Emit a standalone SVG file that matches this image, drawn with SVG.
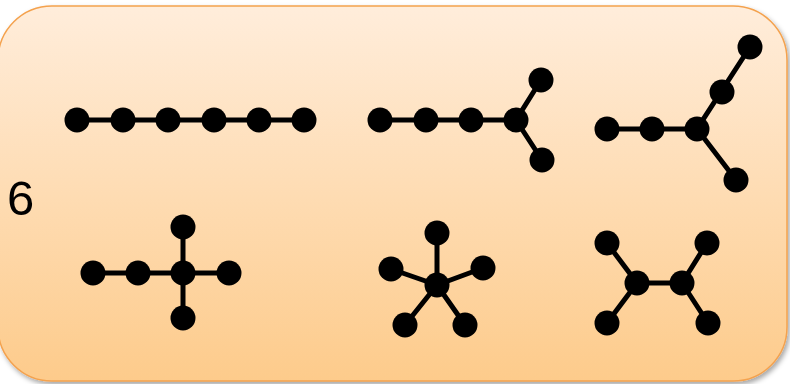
<svg xmlns="http://www.w3.org/2000/svg" width="790" height="384" viewBox="0 0 790 384">
  <defs>
    <linearGradient id="bg" x1="0" y1="0" x2="0" y2="1">
      <stop offset="0" stop-color="#FFEDDB"/>
      <stop offset="1" stop-color="#FDCB8B"/>
    </linearGradient>
    <filter id="shadow" x="-5%" y="-5%" width="110%" height="115%">
      <feDropShadow dx="2" dy="3" stdDeviation="2.5" flood-color="#000" flood-opacity="0.35"/>
    </filter>
  </defs>
  <style>
    .edge { stroke: #000; stroke-width: 5; stroke-linecap: round; fill: none; }
    .v { fill: #000; }
    .lbl { font-family: "Liberation Sans", Arial, sans-serif; font-size: 49px; fill: #000; }
  </style>

  <rect x="-2" y="6" width="789" height="375" rx="54" ry="54" fill="url(#bg)" stroke="#F4A24E" stroke-width="1.5" filter="url(#shadow)"/>

  <text class="lbl" x="7" y="215">6</text>

  <g id="connectors">
    <!-- path P6 -->
    <polyline class="edge" points="77,120 304,120"/>
    <!-- path with fork at the end -->
    <polyline class="edge" points="380,120 516,120"/>
    <polyline class="edge" points="541,80 516,120 542,160"/>
    <!-- long-arm fork -->
    <polyline class="edge" points="607,129 697,129"/>
    <polyline class="edge" points="750,47 697,129 736,180"/>
    <!-- cross -->
    <polyline class="edge" points="93,273 229,273"/>
    <polyline class="edge" points="183,227 183,318"/>
    <!-- star -->
    <path class="edge" d="M437,285 L437,233 M437,285 L391,269 M437,285 L483,268 M437,285 L405,325 M437,285 L465,325"/>
    <!-- double fork -->
    <path class="edge" d="M637,283 L682,283 M637,283 L607,243 M637,283 L607,323 M682,283 L707,243 M682,283 L708,323"/>
  </g>

  <g id="tree-path">
    <circle class="v" cx="77" cy="120" r="12.5"/>
    <circle class="v" cx="123" cy="120" r="12.5"/>
    <circle class="v" cx="168" cy="120" r="12.5"/>
    <circle class="v" cx="214" cy="120" r="12.5"/>
    <circle class="v" cx="259" cy="120" r="12.5"/>
    <circle class="v" cx="304" cy="120" r="12.5"/>
  </g>

  <g id="tree-fork">
    <circle class="v" cx="380" cy="120" r="12.5"/>
    <circle class="v" cx="426" cy="120" r="12.5"/>
    <circle class="v" cx="471" cy="120" r="12.5"/>
    <circle class="v" cx="516" cy="120" r="12.5"/>
    <circle class="v" cx="541" cy="80" r="12.5"/>
    <circle class="v" cx="542" cy="160" r="12.5"/>
  </g>

  <g id="tree-long-fork">
    <circle class="v" cx="607" cy="129" r="12.5"/>
    <circle class="v" cx="652" cy="129" r="12.5"/>
    <circle class="v" cx="697" cy="129" r="12.5"/>
    <circle class="v" cx="722" cy="92" r="12.5"/>
    <circle class="v" cx="750" cy="47" r="12.5"/>
    <circle class="v" cx="736" cy="180" r="12.5"/>
  </g>

  <g id="tree-cross">
    <circle class="v" cx="93" cy="273" r="12.5"/>
    <circle class="v" cx="138" cy="273" r="12.5"/>
    <circle class="v" cx="183" cy="273" r="12.5"/>
    <circle class="v" cx="229" cy="273" r="12.5"/>
    <circle class="v" cx="183" cy="227" r="12.5"/>
    <circle class="v" cx="183" cy="318" r="12.5"/>
  </g>

  <g id="tree-star">
    <circle class="v" cx="437" cy="285" r="12.5"/>
    <circle class="v" cx="437" cy="233" r="12.5"/>
    <circle class="v" cx="391" cy="269" r="12.5"/>
    <circle class="v" cx="483" cy="268" r="12.5"/>
    <circle class="v" cx="405" cy="325" r="12.5"/>
    <circle class="v" cx="465" cy="325" r="12.5"/>
  </g>

  <g id="tree-double-fork">
    <circle class="v" cx="637" cy="283" r="12.5"/>
    <circle class="v" cx="682" cy="283" r="12.5"/>
    <circle class="v" cx="607" cy="243" r="12.5"/>
    <circle class="v" cx="607" cy="323" r="12.5"/>
    <circle class="v" cx="707" cy="243" r="12.5"/>
    <circle class="v" cx="708" cy="323" r="12.5"/>
  </g>
</svg>
